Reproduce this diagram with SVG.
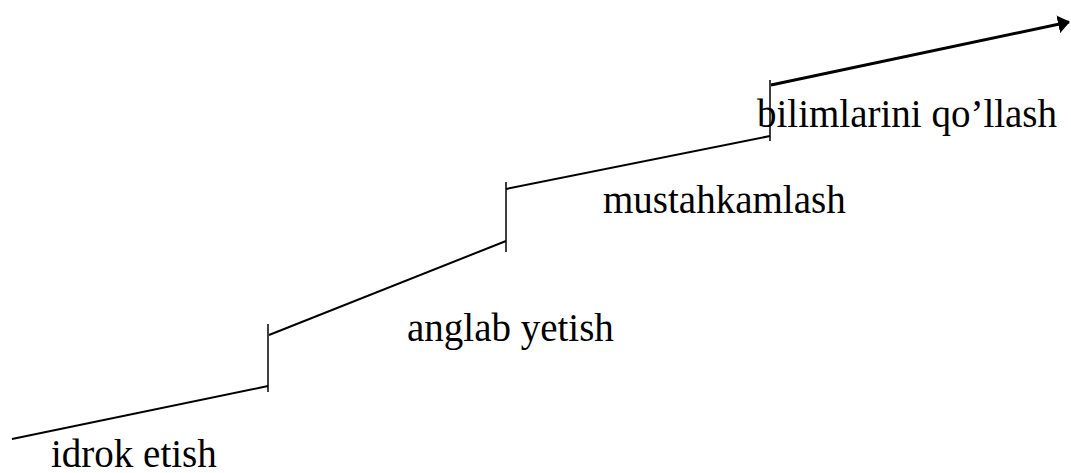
<svg xmlns="http://www.w3.org/2000/svg" width="1071" height="473" viewBox="0 0 1071 473">
<style>
.lbl{font-family:"Liberation Serif","Times New Roman",serif;font-size:39px;fill:#000}
.seg{stroke:#000;stroke-width:2;fill:none}
.tick{stroke:#000;stroke-width:1.5;fill:none}
.main{stroke:#000;stroke-width:3;fill:none}
</style>
<defs>
<marker id="ah" markerUnits="userSpaceOnUse" markerWidth="12" markerHeight="18" refX="11" refY="9" orient="auto">
<path d="M0,0 L12,9 L0,18 z" fill="#000"/>
</marker>
</defs>
<rect width="1071" height="473" fill="#fff"/>
<g id="connectors">
<line class="seg" x1="12" y1="439" x2="268" y2="386"/>
<line class="tick" x1="268" y1="324" x2="268" y2="392"/>
<line class="seg" x1="269" y1="335" x2="506" y2="241"/>
<line class="tick" x1="506" y1="182" x2="506" y2="252"/>
<line class="seg" x1="506" y1="189" x2="770" y2="136"/>
<line class="tick" x1="770" y1="80" x2="770" y2="141"/>
<line class="main" x1="771" y1="85" x2="1069" y2="22" marker-end="url(#ah)"/>
</g>
<g id="step1"><text class="lbl" x="51" y="467">idrok etish</text></g>
<g id="step2"><text class="lbl" x="407" y="341">anglab yetish</text></g>
<g id="step3"><text class="lbl" x="603" y="213">mustahkamlash</text></g>
<g id="step4"><text class="lbl" x="757" y="127">bilimlarini qo’llash</text></g>
</svg>
